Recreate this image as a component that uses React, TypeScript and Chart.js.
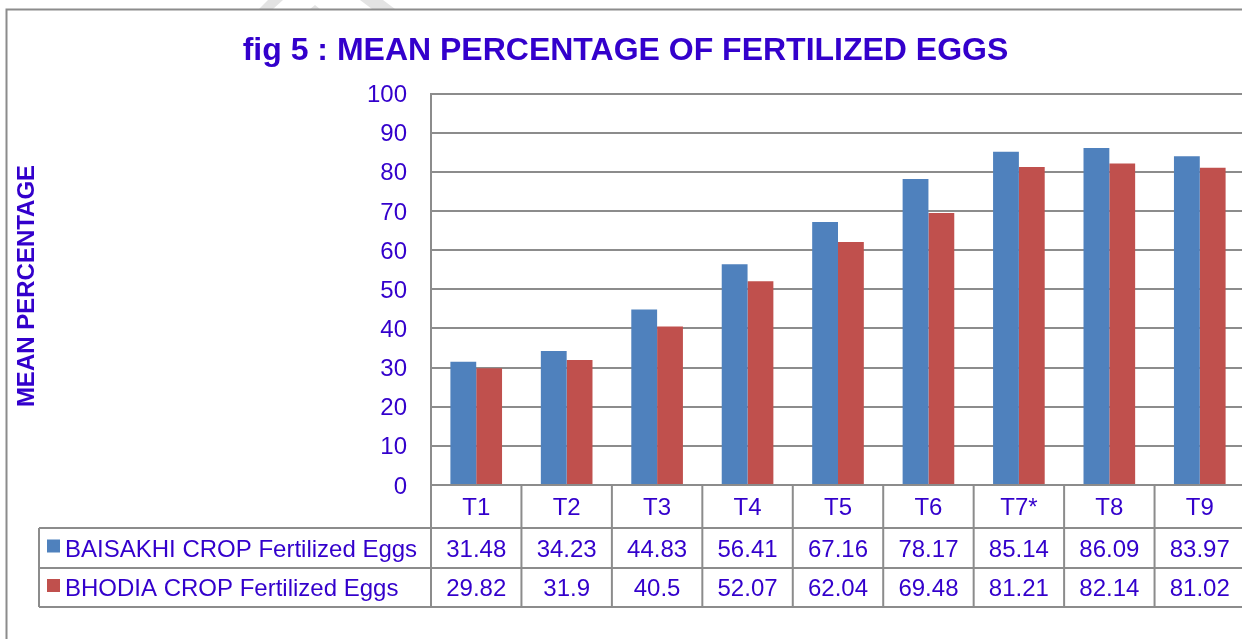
import { useEffect, useRef } from "react";
import { Chart, registerables } from "chart.js";

Chart.register(...registerables);

const TITLE = "fig 5 : MEAN PERCENTAGE OF FERTILIZED EGGS";
const Y_TITLE = "MEAN PERCENTAGE";
const CATEGORIES = ["T1", "T2", "T3", "T4", "T5", "T6", "T7*", "T8", "T9"];
const SERIES_NAMES = ["BAISAKHI CROP Fertilized Eggs", "BHODIA CROP Fertilized Eggs"];
const BAISAKHI = [31.48, 34.23, 44.83, 56.41, 67.16, 78.17, 85.14, 86.09, 83.97];
const BHODIA = [29.82, 31.9, 40.5, 52.07, 62.04, 69.48, 81.21, 82.14, 81.02];
const SERIES_COLORS = ["#4F81BD", "#C0504D"];
const Y_MIN = 0;
const Y_MAX = 100;
const Y_STEP = 10;

const FONT = '"Liberation Sans", Arial, Helvetica, sans-serif';
const TEXT = "#3300CC";
const LINE = "#8c8c8c";

export default function App() {
  const ref = useRef<HTMLCanvasElement>(null);

  useEffect(() => {
    document.body.style.margin = "0";
    document.body.style.overflow = "hidden";
    document.body.style.background = "#ffffff";
    const canvas = ref.current!;
    const seriesValues = [BAISAKHI, BHODIA];

    const framePlugin = {
      id: "frameAndTable",
      beforeDraw(chart: any) {
        const ctx = chart.ctx as CanvasRenderingContext2D;
        ctx.save();
        ctx.fillStyle = "#ffffff";
        ctx.fillRect(0, 0, chart.width, chart.height);
        // faint watermark fragments above the frame
        ctx.fillStyle = "#e3e3e3";
        ctx.beginPath();
        ctx.moveTo(268, 0); ctx.lineTo(283, 0); ctx.lineTo(273, 9); ctx.lineTo(259, 9); ctx.closePath();
        ctx.fill();
        ctx.beginPath();
        ctx.moveTo(310, 9); ctx.lineTo(315, 5); ctx.lineTo(320, 9); ctx.closePath();
        ctx.fill();
        ctx.beginPath();
        ctx.moveTo(360, 0); ctx.lineTo(383, 0); ctx.lineTo(395, 9); ctx.lineTo(372, 9); ctx.closePath();
        ctx.fill();
        // outer frame
        ctx.strokeStyle = LINE;
        ctx.lineWidth = 2;
        ctx.beginPath();
        ctx.moveTo(6.5, chart.height + 5);
        ctx.lineTo(6.5, 9.5);
        ctx.lineTo(chart.width + 5, 9.5);
        ctx.stroke();
        // title
        ctx.fillStyle = TEXT;
        ctx.font = `bold 32px ${FONT}`;
        ctx.textAlign = "center";
        ctx.textBaseline = "alphabetic";
        ctx.fillText(TITLE, 625.5, 60);
        // y axis title
        ctx.save();
        ctx.translate(33.5, 286);
        ctx.rotate(-Math.PI / 2);
        ctx.font = `bold 24px ${FONT}`;
        ctx.fillText(Y_TITLE, 0, 0);
        ctx.restore();
        ctx.restore();
      },
      afterDraw(chart: any) {
        const ctx = chart.ctx as CanvasRenderingContext2D;
        const xs = chart.scales.x;
        const area = chart.chartArea;
        const n = CATEGORIES.length;
        const edges: number[] = [];
        for (let i = 0; i <= n; i++) edges.push(xs.getPixelForValue(i - 0.5));
        const rowTops = [area.bottom, area.bottom + 43, area.bottom + 83, area.bottom + 122];
        const legendLeft = 39;
        const right = chart.width + 5;

        ctx.save();
        ctx.strokeStyle = LINE;
        ctx.lineWidth = 2;
        ctx.beginPath();
        for (let r = 1; r < rowTops.length; r++) {
          ctx.moveTo(legendLeft, rowTops[r]);
          ctx.lineTo(right, rowTops[r]);
        }
        for (let i = 0; i <= n; i++) {
          ctx.moveTo(edges[i], area.bottom);
          ctx.lineTo(edges[i], rowTops[3]);
        }
        ctx.moveTo(legendLeft, rowTops[1]);
        ctx.lineTo(legendLeft, rowTops[3]);
        ctx.stroke();

        ctx.fillStyle = TEXT;
        ctx.font = `24px ${FONT}`;
        ctx.textAlign = "center";
        ctx.textBaseline = "alphabetic";
        const baseline = (r: number) => (rowTops[r] + rowTops[r + 1]) / 2 + 8.5;
        for (let i = 0; i < n; i++) {
          const cx = (edges[i] + edges[i + 1]) / 2;
          ctx.fillText(CATEGORIES[i], cx, baseline(0));
          for (let s = 0; s < seriesValues.length; s++) {
            ctx.fillText(String(seriesValues[s][i]), cx, baseline(s + 1));
          }
        }
        ctx.textAlign = "left";
        for (let s = 0; s < SERIES_NAMES.length; s++) {
          const mid = (rowTops[s + 1] + rowTops[s + 2]) / 2;
          ctx.fillStyle = SERIES_COLORS[s];
          ctx.fillRect(47, mid - 8.5, 13, 13);
          ctx.fillStyle = TEXT;
          ctx.fillText(SERIES_NAMES[s], 65, baseline(s + 1));
        }
        ctx.restore();
      },
    };

    const chart = new Chart(canvas, {
      type: "bar",
      data: {
        labels: CATEGORIES,
        datasets: [
          {
            label: SERIES_NAMES[0],
            data: BAISAKHI,
            backgroundColor: SERIES_COLORS[0],
            borderWidth: 0,
            categoryPercentage: 0.571,
            barPercentage: 1,
          },
          {
            label: SERIES_NAMES[1],
            data: BHODIA,
            backgroundColor: SERIES_COLORS[1],
            borderWidth: 0,
            categoryPercentage: 0.571,
            barPercentage: 1,
          },
        ],
      },
      options: {
        animation: false,
        responsive: false,
        devicePixelRatio: 1,
        layout: { padding: { top: 93.5, left: 0, right: 15, bottom: 154 } },
        plugins: {
          legend: { display: false },
          title: { display: false },
          tooltip: { enabled: false },
        },
        scales: {
          x: { display: false },
          y: {
            min: Y_MIN,
            max: Y_MAX,
            ticks: {
              stepSize: Y_STEP,
              color: TEXT,
              font: { family: FONT, size: 24 },
              padding: 24,
              labelOffset: 2,
            },
            grid: { color: LINE, lineWidth: 2, drawTicks: false },
            border: { display: true, color: LINE, width: 2 },
            afterFit: (scale: any) => {
              scale.width = 431;
            },
          },
        },
      },
      plugins: [framePlugin],
    });
    return () => chart.destroy();
  }, []);

  return (
    <div style={{ position: "fixed", left: 0, top: 0, width: 1260, height: 639 }}>
      <canvas ref={ref} width={1260} height={639} style={{ display: "block" }} />
    </div>
  );
}
